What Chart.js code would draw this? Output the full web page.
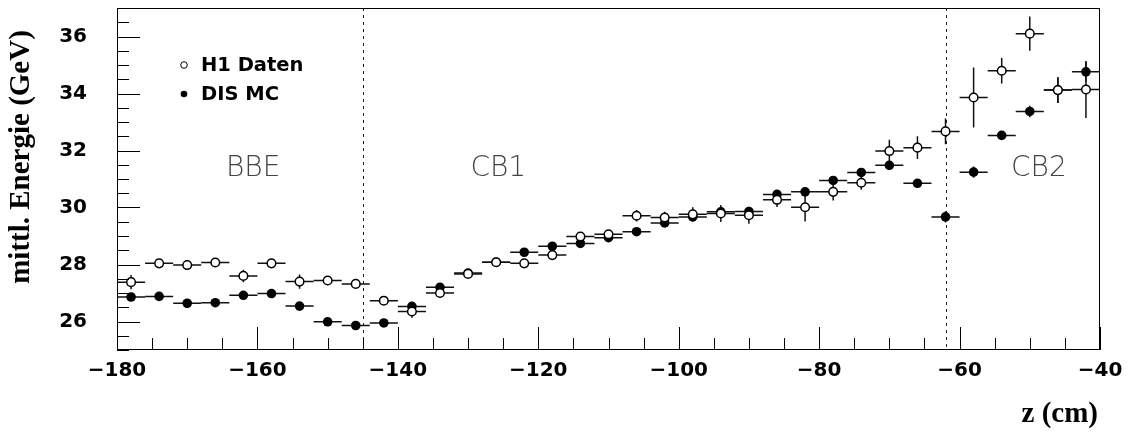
<!DOCTYPE html>
<html>
<head>
<meta charset="utf-8">
<title>mittl. Energie vs z</title>
<script src="https://cdn.jsdelivr.net/npm/chart.js@4.4.1/dist/chart.umd.min.js"></script>
<style>
    body { margin: 0; background: #fff; }
    #wrap { width: 1137px; height: 437px; }
</style>
</head>
<body>
<div id="wrap"><canvas id="chart" width="1137" height="437"></canvas></div>
<script>
// bin centres in z (cm), every bin is 4 cm wide
const zBins = [-178, -174, -170, -166, -162, -158, -154, -150, -146, -142, -138, -134,
               -130, -126, -122, -118, -114, -110, -106, -102, -98, -94, -90, -86,
               -82, -78, -74, -70, -66, -62, -58, -54, -50, -46, -42];
const binHalfWidth = 2;

// H1 data, mean energy (GeV) and its error
const dataEnergy = [27.38, 28.04, 27.98, 28.07, 27.60, 28.04, 27.40, 27.44, 27.32, 26.73, 26.35, 27.00,
                    27.67, 28.08, 28.04, 28.33, 28.98, 29.06, 29.71, 29.65, 29.76, 29.79, 29.73, 30.27,
                    30.01, 30.55, 30.87, 31.98, 32.10, 32.67, 33.86, 34.80, 36.10, 34.12, 34.14];
const dataErr = [0.25, 0.12, 0.15, 0.12, 0.22, 0.12, 0.25, 0.15, 0.15, 0.12, 0.22, 0.15,
                 0.12, 0.10, 0.12, 0.15, 0.15, 0.12, 0.20, 0.20, 0.25, 0.30, 0.30, 0.25,
                 0.50, 0.30, 0.25, 0.40, 0.40, 0.45, 1.05, 0.45, 0.60, 0.45, 1.00];

// DIS Monte Carlo
const mcEnergy = [26.86, 26.88, 26.64, 26.66, 26.92, 26.98, 26.54, 25.99, 25.86, 25.95, 26.53, 27.20,
                  27.70, 28.08, 28.43, 28.64, 28.74, 28.94, 29.15, 29.46, 29.67, 29.85, 29.86, 30.46,
                  30.55, 30.95, 31.23, 31.48, 30.85, 29.67, 31.24, 32.53, 33.37, 34.12, 34.76];
const mcErr = [0.08, 0.08, 0.08, 0.08, 0.08, 0.08, 0.08, 0.08, 0.08, 0.08, 0.08, 0.10,
               0.10, 0.10, 0.10, 0.10, 0.10, 0.10, 0.10, 0.10, 0.10, 0.10, 0.10, 0.10,
               0.10, 0.10, 0.10, 0.10, 0.10, 0.20, 0.20, 0.15, 0.20, 0.45, 0.35];

const xTickValues = [-180, -160, -140, -120, -100, -80, -60, -40];
const yTickValues = [26, 28, 30, 32, 34, 36];

// calorimeter regions and the z positions separating them
const regionNames = ['BBE', 'CB1', 'CB2'];
const regionCentres = [-160.6, -125.7, -48.7];
const regionLabelE = 31.37;
const regionBounds = [-145, -62];

const legendNames = ['H1 Daten', 'DIS MC'];

const decorations = {
    id: 'decorations',
    beforeDatasetsDraw(chart) {
        const { ctx, chartArea, scales: { x, y } } = chart;
        ctx.save();

        // dotted region boundaries
        ctx.strokeStyle = '#222';
        ctx.lineWidth = 1;
        ctx.setLineDash([3, 4]);
        regionBounds.forEach(z => {
            const px = Math.round(x.getPixelForValue(z)) + 0.5;
            ctx.beginPath();
            ctx.moveTo(px, chartArea.top);
            ctx.lineTo(px, chartArea.bottom);
            ctx.stroke();
        });
        ctx.setLineDash([]);

        // bin width and error bars
        ctx.strokeStyle = '#111';
        ctx.lineWidth = 1.5;
        [[dataEnergy, dataErr], [mcEnergy, mcErr]].forEach(([vals, errs]) => {
            zBins.forEach((z, i) => {
                const cx = x.getPixelForValue(z);
                const cy = y.getPixelForValue(vals[i]);
                ctx.beginPath();
                ctx.moveTo(x.getPixelForValue(z - binHalfWidth), cy);
                ctx.lineTo(x.getPixelForValue(z + binHalfWidth), cy);
                ctx.moveTo(cx, y.getPixelForValue(vals[i] - errs[i]));
                ctx.lineTo(cx, y.getPixelForValue(vals[i] + errs[i]));
                ctx.stroke();
            });
        });
        ctx.restore();
    },
    afterDatasetsDraw(chart) {
        const { ctx, chartArea: a, scales: { x, y } } = chart;
        ctx.save();

        // frame
        ctx.strokeStyle = '#000';
        ctx.lineWidth = 1;
        ctx.strokeRect(Math.round(a.left) + 0.5, Math.round(a.top) + 0.5,
                       Math.round(a.width) - 1, Math.round(a.height) - 1);

        // ticks pointing into the frame
        ctx.beginPath();
        for (let v = -180; v <= -40; v += 5) {
            const px = Math.round(x.getPixelForValue(v)) + 0.5;
            const len = v % 20 === 0 ? 23 : 12;
            ctx.moveTo(px, a.bottom);
            ctx.lineTo(px, a.bottom - len);
        }
        for (let v = 25; v <= 37; v += 0.5) {
            const py = Math.round(y.getPixelForValue(v)) + 0.5;
            const len = v % 2 === 0 ? 23 : 12;
            ctx.moveTo(a.left, py);
            ctx.lineTo(a.left + len, py);
        }
        ctx.stroke();

        // region names
        ctx.fillStyle = '#444';
        ctx.font = '200 28px "DejaVu Sans", sans-serif';
        ctx.textAlign = 'center';
        ctx.textBaseline = 'middle';
        regionNames.forEach((name, i) => {
            ctx.fillText(name, x.getPixelForValue(regionCentres[i]), y.getPixelForValue(regionLabelE));
        });

        // legend
        const lx = a.left + 67;
        ctx.font = 'bold 19.5px "DejaVu Sans", sans-serif';
        ctx.textAlign = 'left';
        legendNames.forEach((name, i) => {
            const ly = a.top + 57 + i * 29;
            ctx.beginPath();
            ctx.arc(lx, ly, 3.3, 0, Math.PI * 2);
            if (i === 0) {
                ctx.fillStyle = '#fff';
                ctx.fill();
                ctx.lineWidth = 1;
                ctx.stroke();
            } else {
                ctx.fillStyle = '#000';
                ctx.fill();
            }
            ctx.fillStyle = '#000';
            ctx.fillText(name, lx + 17, ly + 1);
        });

        // axis titles
        ctx.font = 'bold 29px "Liberation Serif", "Times New Roman", serif';
        ctx.textAlign = 'right';
        ctx.fillText('z (cm)', a.right - 2, 415);
        ctx.translate(22, 157);
        ctx.rotate(-Math.PI / 2);
        ctx.textAlign = 'center';
        ctx.fillText('mittl. Energie (GeV)', 0, 0);
        ctx.restore();
    }
};

new Chart(document.getElementById('chart'), {
    type: 'scatter',
    data: {
        datasets: [
            {
                label: legendNames[0],
                data: zBins.map((z, i) => ({ x: z, y: dataEnergy[i] })),
                pointRadius: 4.3,
                pointBackgroundColor: '#fff',
                pointBorderColor: '#000',
                pointBorderWidth: 1.5
            },
            {
                label: legendNames[1],
                data: zBins.map((z, i) => ({ x: z, y: mcEnergy[i] })),
                pointRadius: 4.8,
                pointBackgroundColor: '#000',
                pointBorderColor: '#000',
                pointBorderWidth: 0
            }
        ]
    },
    options: {
        responsive: false,
        animation: false,
        layout: { padding: { top: 8, right: 37, left: 0, bottom: 0 } },
        plugins: {
            legend: { display: false },
            tooltip: { enabled: false }
        },
        scales: {
            x: {
                type: 'linear',
                min: -180,
                max: -40,
                afterBuildTicks: s => { s.ticks = xTickValues.map(v => ({ value: v })); },
                afterFit: s => { s.height = 87; },
                // tick marks are drawn by the plugin, tickLength only spaces the labels
                grid: { display: false, drawTicks: true, tickLength: 9 },
                border: { display: false },
                ticks: {
                    padding: 0,
                    maxRotation: 0,
                    autoSkip: false,
                    color: '#000',
                    font: { family: 'DejaVu Sans', weight: 'bold', size: 20 },
                    callback: v => String(v).replace('-', '\u2212')
                }
            },
            y: {
                min: 25,
                max: 37,
                afterBuildTicks: s => { s.ticks = yTickValues.map(v => ({ value: v })); },
                afterFit: s => { s.width = 117; },
                grid: { display: false, drawTicks: true, tickLength: 30 },
                border: { display: false },
                ticks: {
                    padding: 0,
                    color: '#000',
                    font: { family: 'DejaVu Sans', weight: 'bold', size: 20, lineHeight: 0.8 }
                }
            }
        }
    },
    plugins: [decorations]
});
</script>
</body>
</html>
